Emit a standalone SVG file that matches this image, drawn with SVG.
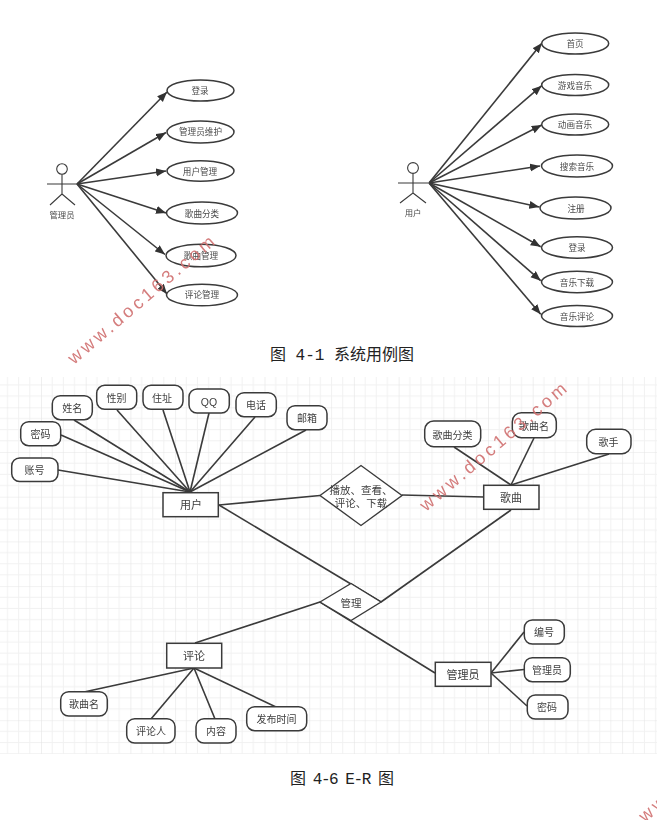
<svg xmlns="http://www.w3.org/2000/svg" width="657" height="820" viewBox="0 0 657 820">
<style>
text{font-family:"Noto Sans CJK SC","Liberation Sans",sans-serif;text-anchor:middle;fill:#404040}
.uc ellipse{fill:#fff;stroke:#3a3a3a;stroke-width:1.5}
.uc text{font-size:8.6px;fill:#4a4a4a}
.actor *{fill:none;stroke:#3a3a3a;stroke-width:1.1}
.actor text{font-size:8.4px;fill:#4a4a4a;stroke:none}
.arrows line{stroke:#3a3a3a;stroke-width:1.6;marker-end:url(#arr)}
.links line{stroke:#3a3a3a;stroke-width:1.6}
.attr rect{fill:#fff;stroke:#3a3a3a;stroke-width:1.5}
.attr text{font-size:10px}
.ent rect{fill:#fff;stroke:#3a3a3a;stroke-width:1.5}
.ent text{font-size:11px}
.rel polygon{fill:#fff;stroke:#3a3a3a;stroke-width:1.4}
.rel text{font-size:10.5px}
.cap{font-family:"Liberation Mono","Noto Sans CJK SC",monospace;font-size:16px;fill:#222;text-anchor:start}
.wm{font-family:"Liberation Sans",sans-serif;font-size:18px;letter-spacing:3.5px;fill:#d06f6f;text-anchor:start;opacity:.9}
</style>
<defs>
<marker id="arr" markerUnits="userSpaceOnUse" markerWidth="11" markerHeight="9" refX="10" refY="4" orient="auto"><path d="M0 0L10 4L0 8z" fill="#333"/></marker>
<pattern id="grid" patternUnits="userSpaceOnUse" x="41" y="407.3" width="44.7" height="44.7">
<path d="M11.175 0V44.7M22.35 0V44.7M33.525 0V44.7M0 11.175H44.7M0 22.35H44.7M0 33.525H44.7" stroke="#f1f1f1" stroke-width="1" fill="none"/>
<path d="M0 0V44.7M0 0H44.7" stroke="#e5e5e5" stroke-width="1.2" fill="none"/>
</pattern>
<filter id="soft" x="-5%" y="-5%" width="110%" height="110%"><feGaussianBlur stdDeviation="0.35"/></filter>
</defs>
<rect width="657" height="820" fill="#fff"/>
<rect id="er-grid" x="0" y="377" width="657" height="377" fill="url(#grid)"/>

<g filter="url(#soft)">
<g id="usecase-connectors" class="arrows">
<line x1="77" y1="184" x2="167" y2="92"/>
<line x1="77" y1="184" x2="166" y2="132.5"/>
<line x1="77" y1="184" x2="166" y2="171"/>
<line x1="77" y1="184" x2="166" y2="213"/>
<line x1="77" y1="184" x2="165" y2="254.5"/>
<line x1="77" y1="184" x2="167" y2="294"/>
<line x1="429" y1="183" x2="542" y2="43"/>
<line x1="429" y1="183" x2="541.7" y2="85.7"/>
<line x1="429" y1="183" x2="541.7" y2="125"/>
<line x1="429" y1="183" x2="540" y2="166"/>
<line x1="429" y1="183" x2="539.3" y2="207"/>
<line x1="429" y1="183" x2="540.7" y2="246.7"/>
<line x1="429" y1="183" x2="540.7" y2="280.7"/>
<line x1="429" y1="183" x2="540.7" y2="314.3"/>
</g>
<g id="actor-admin" class="actor"><circle cx="62" cy="169" r="5.3"/><path d="M47 184H77M62 174.3V194L50 205M62 194L75 205"/><text x="62" y="218">管理员</text></g>
<g id="actor-user" class="actor"><circle cx="413" cy="168" r="5.4"/><path d="M398 183H428M413 173.4V193L400 203M413 193L426 203"/><text x="413" y="216">用户</text></g>
<g id="uc-login-a" class="uc"><ellipse cx="200.5" cy="90.5" rx="33.5" ry="10.5"/><text x="200" y="94">登录</text></g>
<g id="uc-admin" class="uc"><ellipse cx="200.5" cy="132" rx="33.5" ry="11"/><text x="200.5" y="135">管理员维护</text></g>
<g id="uc-users" class="uc"><ellipse cx="200.5" cy="171" rx="33.5" ry="10.2"/><text x="200" y="175">用户管理</text></g>
<g id="uc-cat" class="uc"><ellipse cx="202" cy="213" rx="35.5" ry="11"/><text x="202" y="217">歌曲分类</text></g>
<g id="uc-song" class="uc"><ellipse cx="201" cy="255.5" rx="35" ry="11.3"/><text x="201" y="259">歌曲管理</text></g>
<g id="uc-comment" class="uc"><ellipse cx="202" cy="295" rx="35.5" ry="10.8"/><text x="202" y="298">评论管理</text></g>
<g id="uc-home" class="uc"><ellipse cx="575.2" cy="43.5" rx="33.5" ry="10.5"/><text x="575" y="47">首页</text></g>
<g id="uc-game" class="uc"><ellipse cx="575.2" cy="85" rx="33.5" ry="10.5"/><text x="575" y="89">游戏音乐</text></g>
<g id="uc-anime" class="uc"><ellipse cx="575.2" cy="124.5" rx="33.5" ry="10.5"/><text x="575" y="128">动画音乐</text></g>
<g id="uc-search" class="uc"><ellipse cx="577" cy="166" rx="35.5" ry="11"/><text x="577" y="170">搜索音乐</text></g>
<g id="uc-reg" class="uc"><ellipse cx="575.5" cy="208" rx="35.5" ry="11"/><text x="576" y="212">注册</text></g>
<g id="uc-login-u" class="uc"><ellipse cx="577" cy="247.5" rx="35.5" ry="10.7"/><text x="577" y="251">登录</text></g>
<g id="uc-dl" class="uc"><ellipse cx="577" cy="282" rx="35.5" ry="10.7"/><text x="577" y="286">音乐下载</text></g>
<g id="uc-review" class="uc"><ellipse cx="577" cy="316" rx="35.5" ry="10.5"/><text x="577" y="320">音乐评论</text></g>

<g id="er-connectors" class="links">
<line x1="58" y1="470" x2="190" y2="492"/>
<line x1="61" y1="435" x2="190" y2="492"/>
<line x1="74" y1="420" x2="190" y2="492"/>
<line x1="117" y1="410" x2="190" y2="492"/>
<line x1="163" y1="410" x2="190" y2="492"/>
<line x1="209" y1="413" x2="190" y2="492"/>
<line x1="255" y1="417" x2="190" y2="492"/>
<line x1="306" y1="430" x2="190" y2="492"/>
<line x1="219" y1="505" x2="320" y2="495.5"/>
<line x1="219" y1="505" x2="381" y2="602"/>
<line x1="402" y1="495" x2="484" y2="497"/>
<line x1="454" y1="447" x2="511" y2="485"/>
<line x1="534" y1="438" x2="511" y2="485"/>
<line x1="609" y1="454" x2="511" y2="485"/>
<line x1="511" y1="510" x2="381" y2="602"/>
<line x1="320" y1="602" x2="195" y2="643"/>
<line x1="320" y1="602" x2="435" y2="673"/>
<line x1="194" y1="668" x2="84" y2="692"/>
<line x1="194" y1="668" x2="151" y2="719"/>
<line x1="194" y1="668" x2="215" y2="719"/>
<line x1="194" y1="668" x2="276" y2="707"/>
<line x1="491" y1="673" x2="524" y2="632"/>
<line x1="491" y1="673" x2="524" y2="669.5"/>
<line x1="491" y1="673" x2="527" y2="706"/>
</g>
<g id="a-account" class="attr"><rect x="11.7" y="458" width="46.3" height="23.5" rx="8"/><text x="34.5" y="474">账号</text></g>
<g id="a-pass" class="attr"><rect x="20.7" y="421.7" width="40" height="24" rx="8"/><text x="40.5" y="438">密码</text></g>
<g id="a-name" class="attr"><rect x="52.3" y="395.7" width="40" height="24" rx="8"/><text x="72.3" y="412">姓名</text></g>
<g id="a-sex" class="attr"><rect x="96.7" y="385.3" width="40" height="24" rx="8"/><text x="116.5" y="402">性别</text></g>
<g id="a-addr" class="attr"><rect x="143" y="385.3" width="40" height="24" rx="8"/><text x="162" y="402">住址</text></g>
<g id="a-qq" class="attr"><rect x="189" y="389" width="40.3" height="24" rx="8"/><text x="209" y="406" style="font-family:'Liberation Sans',sans-serif;font-size:10.5px">QQ</text></g>
<g id="a-tel" class="attr"><rect x="236" y="392.7" width="40.3" height="24" rx="8"/><text x="256" y="409">电话</text></g>
<g id="a-mail" class="attr"><rect x="287" y="405.7" width="40" height="24" rx="8"/><text x="307" y="422">邮箱</text></g>
<g id="a-cat" class="attr"><rect x="424.7" y="421" width="56" height="25.7" rx="9"/><text x="452.5" y="439">歌曲分类</text></g>
<g id="a-sname" class="attr"><rect x="512.3" y="412.7" width="44" height="25" rx="9"/><text x="534" y="430">歌曲名</text></g>
<g id="a-singer" class="attr"><rect x="586.7" y="429.3" width="44.3" height="24.4" rx="9"/><text x="608.5" y="446">歌手</text></g>
<g id="a-csong" class="attr"><rect x="60.7" y="691.7" width="46.6" height="24.3" rx="8"/><text x="84" y="708">歌曲名</text></g>
<g id="a-cuser" class="attr"><rect x="126.7" y="718.7" width="48.3" height="24.3" rx="8"/><text x="151" y="735">评论人</text></g>
<g id="a-ctext" class="attr"><rect x="196" y="718.7" width="40" height="24.3" rx="8"/><text x="216" y="735">内容</text></g>
<g id="a-ctime" class="attr"><rect x="246.7" y="706.7" width="60" height="24" rx="8"/><text x="276.5" y="723">发布时间</text></g>
<g id="a-no" class="attr"><rect x="524.3" y="620" width="40" height="24" rx="8"/><text x="544" y="636">编号</text></g>
<g id="a-adm" class="attr"><rect x="524.3" y="657.7" width="46" height="24" rx="8"/><text x="547" y="674">管理员</text></g>
<g id="a-apass" class="attr"><rect x="527.3" y="695" width="40.7" height="24" rx="8"/><text x="547" y="711">密码</text></g>
<g id="e-user" class="ent"><rect x="163" y="492.7" width="55.3" height="24"/><text x="191" y="509">用户</text></g>
<g id="e-song" class="ent"><rect x="483.7" y="485.3" width="55.3" height="24"/><text x="511" y="502">歌曲</text></g>
<g id="e-comment" class="ent"><rect x="166.7" y="643.3" width="55" height="24.7"/><text x="194" y="660">评论</text></g>
<g id="e-admin" class="ent"><rect x="435.3" y="662.3" width="55.7" height="24"/><text x="463" y="679">管理员</text></g>
<g id="r-play" class="rel"><polygon points="320,495.5 361,465.5 402,495.5 361,525.5"/><text><tspan x="361" y="494">播放、查看、</tspan><tspan x="361" y="507">评论、下载</tspan></text></g>
<g id="r-manage" class="rel"><polygon points="320,602 351,583.5 381,602 351,620.5"/><text x="351" y="607">管理</text></g>
</g>

<text class="cap" x="270" y="360" xml:space="preserve">图 4-1 系统用例图</text>
<text class="cap" x="290" y="784" textLength="104" xml:space="preserve">图 4-6 E-R 图</text>

<text class="wm" transform="translate(74,365) rotate(-40.5)">www.doc163.com</text>
<text class="wm" transform="translate(426,512) rotate(-40.5)">www.doc163.com</text>
<text class="wm" transform="translate(645,823) rotate(-40.5)">www.doc163.com</text>
</svg>
